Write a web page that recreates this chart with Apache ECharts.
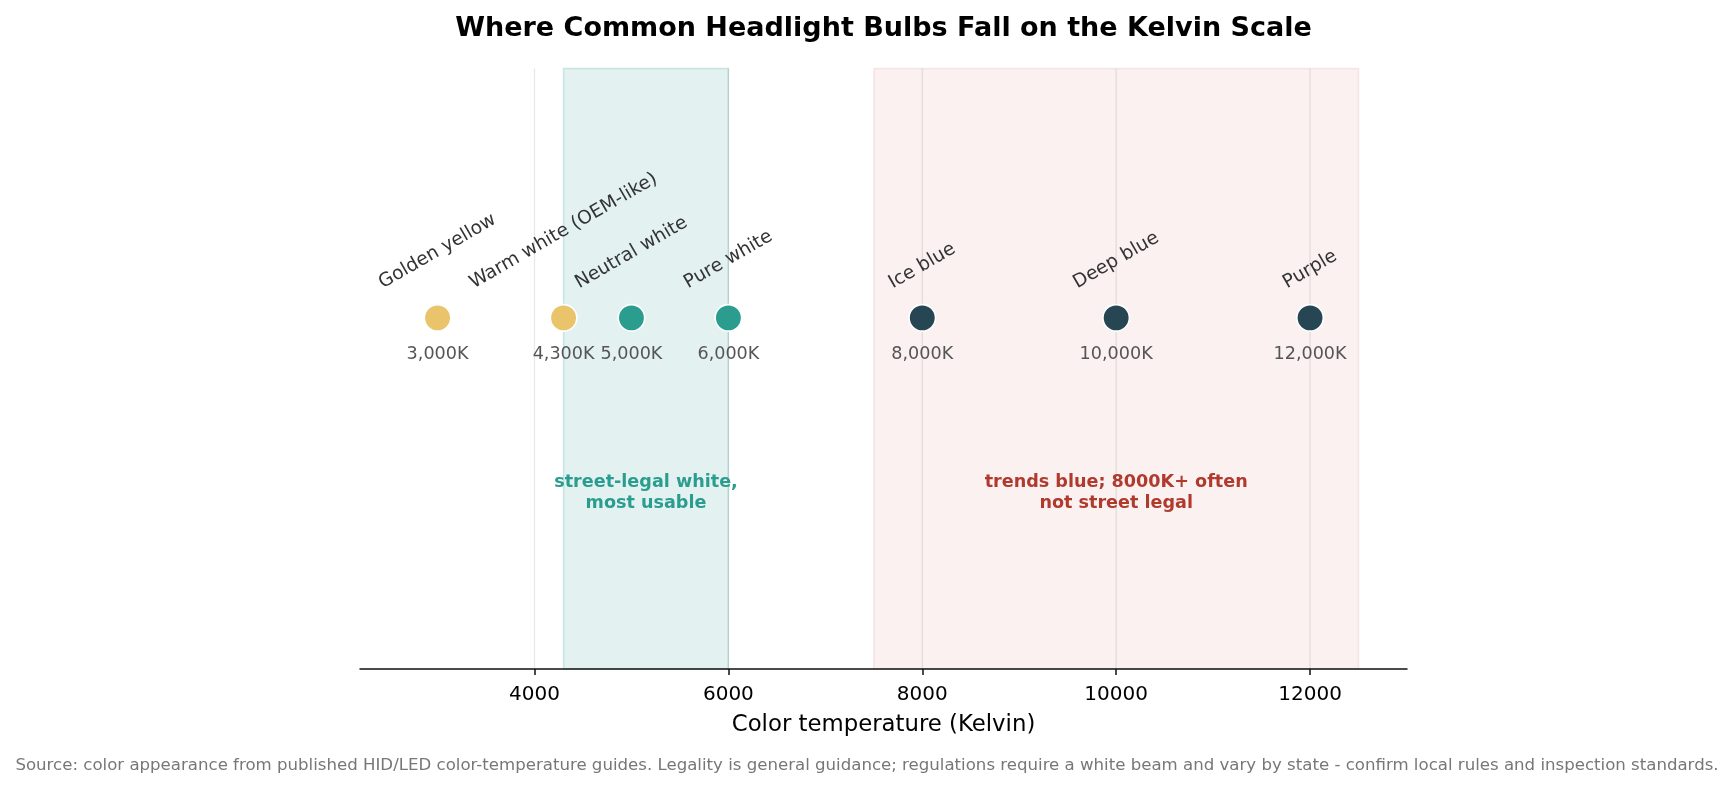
<!DOCTYPE html>
<html>
<head>
<meta charset="utf-8">
<title>Headlight Bulbs on the Kelvin Scale</title>
<script src="https://cdn.jsdelivr.net/npm/echarts@6.0.0/dist/echarts.min.js"></script>
<style>
    html, body { margin: 0; padding: 0; background: #fff; }
    #chart { width: 1734px; height: 789px; }
</style>
</head>
<body>
<div id="chart"></div>
<script>
// data
const BULB_NAMES = ['Golden yellow', 'Warm white (OEM-like)', 'Neutral white', 'Pure white', 'Ice blue', 'Deep blue', 'Purple'];
const BULB_KELVIN = [3000, 4300, 5000, 6000, 8000, 10000, 12000];
const BULB_GROUP = ['warm', 'warm', 'white', 'white', 'blue', 'blue', 'blue'];
const X_TICKS = [4000, 6000, 8000, 10000, 12000];
const X_RANGE = [2200, 13000];
const Y_RANGE = [-1, 0.71];
const BAND_RANGES = [[4300, 6000], [7500, 12500]];
const BAND_NOTES = ['street-legal white,\nmost usable', 'trends blue; 8000K+ often\nnot street legal'];
const NOTE_Y = -0.5;

const TITLE = 'Where Common Headlight Bulbs Fall on the Kelvin Scale';
const X_NAME = 'Color temperature (Kelvin)';
const FOOTER = 'Source: color appearance from published HID/LED color-temperature guides. Legality is general guidance; regulations require a white beam and vary by state - confirm local rules and inspection standards.';

// styles
const FONT = '"DejaVu Sans", sans-serif';
const GROUP_COLORS = { warm: '#e9c46a', white: '#2a9d8f', blue: '#264653' };
const BAND_FILL = ['rgba(42,157,143,0.13)', 'rgba(185,70,60,0.075)'];
const BAND_EDGE = ['rgba(42,157,143,0.22)', 'rgba(185,70,60,0.10)'];
const NOTE_COLORS = ['#2a9d8f', '#b03a2e'];
const GRID = { left: 360, right: 327, top: 68.5, bottom: 120 };
const NAME_SIZE = 18.7;
const NAME_ROT = Math.PI / 6;
const NAME_GAP = 24;

const measureCtx = document.createElement('canvas').getContext('2d');
function textWidth(text, font) {
    measureCtx.font = font;
    return measureCtx.measureText(text).width;
}

function initChart() {
    const dom = document.getElementById('chart');
    const chart = echarts.init(dom);
    const width = dom.clientWidth;
    const plotCenter = GRID.left + (width - GRID.left - GRID.right) / 2;
    const nameFont = NAME_SIZE + 'px ' + FONT;

    const option = {
        animation: false,
        backgroundColor: '#ffffff',
        textStyle: { fontFamily: FONT },
        grid: Object.assign({ containLabel: false, outerBoundsMode: 'none' }, GRID),
        xAxis: {
            type: 'value',
            min: X_RANGE[0],
            max: X_RANGE[1],
            name: X_NAME,
            nameLocation: 'middle',
            nameGap: 42,
            nameTextStyle: { fontSize: 22.8, color: '#000', lineHeight: 26, fontFamily: FONT },
            axisLine: { show: true, onZero: false, lineStyle: { color: '#111', width: 1.5 } },
            axisTick: { show: true, length: 6, lineStyle: { color: '#111', width: 1.5 }, customValues: X_TICKS },
            axisLabel: {
                customValues: X_TICKS,
                fontSize: 20,
                lineHeight: 24,
                margin: 14,
                color: '#000',
                fontFamily: FONT,
                formatter: v => String(v)
            },
            splitLine: { show: false }
        },
        yAxis: {
            type: 'value',
            min: Y_RANGE[0],
            max: Y_RANGE[1],
            show: false,
            splitLine: { show: false }
        },
        graphic: [
            {
                type: 'text',
                x: plotCenter,
                y: 28.5,
                style: {
                    text: TITLE, fill: '#000', align: 'center', verticalAlign: 'middle',
                    font: 'bold 27px ' + FONT
                }
            },
            {
                type: 'text',
                x: width / 2,
                y: 766,
                style: {
                    text: FOOTER, fill: '#777', align: 'center', verticalAlign: 'middle',
                    font: '16.6px ' + FONT
                }
            }
        ],
        series: [
            {
                // shaded ranges
                type: 'custom',
                z: 0,
                silent: true,
                data: BAND_RANGES.map(r => [r[0], r[1]]),
                renderItem: function (params, api) {
                    const p0 = api.coord([api.value(0), Y_RANGE[1]]);
                    const p1 = api.coord([api.value(1), Y_RANGE[0]]);
                    return {
                        type: 'rect',
                        shape: { x: p0[0], y: p0[1], width: p1[0] - p0[0], height: p1[1] - p0[1] },
                        style: {
                            fill: BAND_FILL[params.dataIndex],
                            stroke: BAND_EDGE[params.dataIndex],
                            lineWidth: 1.5
                        }
                    };
                }
            },
            {
                // vertical gridlines at tick values
                type: 'custom',
                z: 1,
                silent: true,
                data: X_TICKS.map(v => [v]),
                renderItem: function (params, api) {
                    const top = api.coord([api.value(0), Y_RANGE[1]]);
                    const bottom = api.coord([api.value(0), Y_RANGE[0]]);
                    return {
                        type: 'line',
                        shape: { x1: top[0], y1: top[1], x2: bottom[0], y2: bottom[1] },
                        style: { stroke: 'rgba(0,0,0,0.09)', lineWidth: 1.3 }
                    };
                }
            },
            {
                // band notes
                type: 'custom',
                z: 2,
                silent: true,
                data: BAND_RANGES.map(r => [(r[0] + r[1]) / 2, NOTE_Y]),
                renderItem: function (params, api) {
                    const p = api.coord([api.value(0), api.value(1)]);
                    return {
                        type: 'text',
                        x: p[0],
                        y: p[1],
                        style: {
                            text: BAND_NOTES[params.dataIndex],
                            fill: NOTE_COLORS[params.dataIndex],
                            font: 'bold 17.6px ' + FONT,
                            lineHeight: 21,
                            align: 'center',
                            verticalAlign: 'middle'
                        }
                    };
                }
            },
            {
                // bulbs
                type: 'scatter',
                z: 3,
                symbolSize: 26.5,
                data: BULB_KELVIN.map((k, i) => ({
                    value: [k, 0],
                    itemStyle: { color: GROUP_COLORS[BULB_GROUP[i]] }
                })),
                itemStyle: { borderColor: '#ffffff', borderWidth: 1.6, opacity: 1 },
                label: {
                    show: true,
                    position: 'bottom',
                    distance: 14,
                    fontSize: 17.6,
                    color: '#555',
                    fontFamily: FONT,
                    formatter: p => echarts.format.addCommas(p.value[0]) + 'K'
                },
                emphasis: { disabled: true }
            },
            {
                // rotated bulb names
                type: 'custom',
                z: 4,
                silent: true,
                data: BULB_KELVIN.map(k => [k, 0]),
                renderItem: function (params, api) {
                    const p = api.coord([api.value(0), api.value(1)]);
                    const name = BULB_NAMES[params.dataIndex];
                    const w = textWidth(name, nameFont);
                    const h = NAME_SIZE * 1.17;
                    const boxH = w * Math.sin(NAME_ROT) + h * Math.cos(NAME_ROT);
                    return {
                        type: 'text',
                        x: p[0],
                        y: p[1] - NAME_GAP - boxH / 2,
                        rotation: NAME_ROT,
                        style: {
                            text: name,
                            fill: '#333',
                            font: nameFont,
                            align: 'center',
                            verticalAlign: 'middle'
                        }
                    };
                }
            }
        ]
    };
    chart.setOption(option);
    window.addEventListener('resize', function () {
        chart.resize();
    });
    return chart;
}

document.addEventListener('DOMContentLoaded', function () {
    if (typeof echarts === 'undefined') {
        console.error('echarts not loaded');
        return;
    }
    initChart();
});
</script>
</body>
</html>
